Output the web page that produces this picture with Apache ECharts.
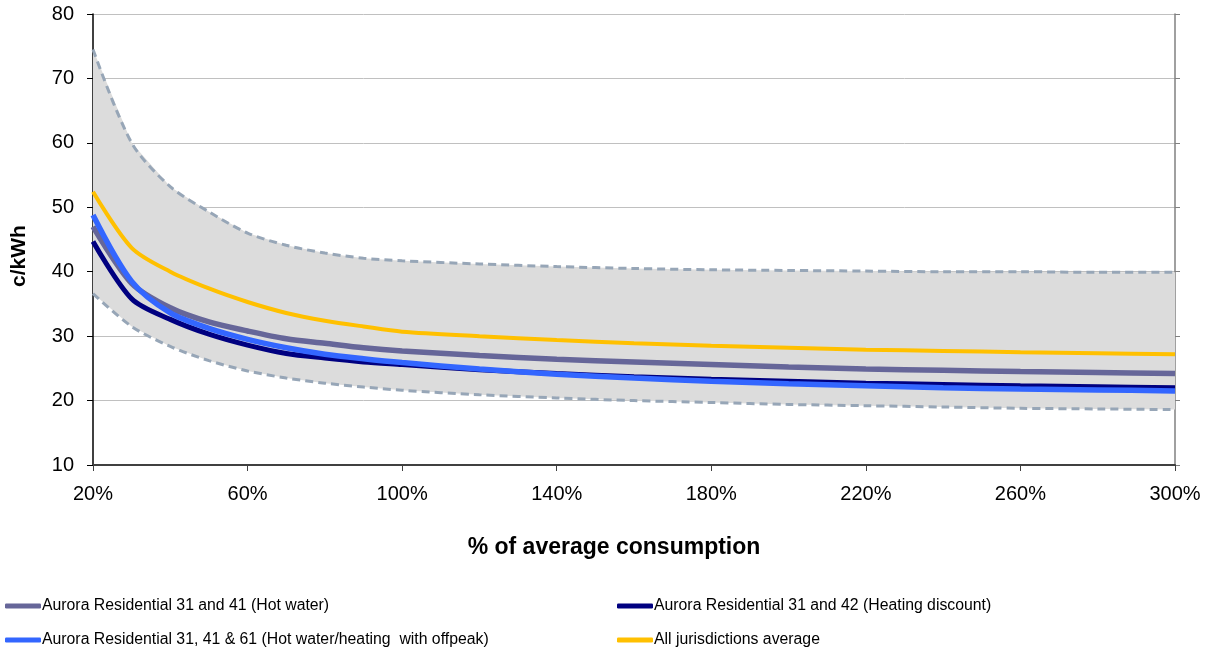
<!DOCTYPE html>
<html>
<head>
<meta charset="utf-8">
<script src="https://cdn.jsdelivr.net/npm/echarts@6/dist/echarts.min.js"></script>
<style>html,body{margin:0;padding:0;background:#fff}#c{width:1209px;height:652px}</style>
</head>
<body>
<div id="c"></div>
<script>
const consumption = [20,30,40,50,60,70,80,90,100,120,140,160,180,200,220,240,260,280,300];
const bandUpper = [74.5,60.0,53.2,49.3,46.0,44.1,42.9,42.1,41.7,41.2,40.8,40.5,40.3,40.2,40.1,40.0,40.0,39.9,39.9];
const bandLower = [36.6,31.5,28.4,26.2,24.6,23.5,22.7,22.1,21.6,20.9,20.4,20.0,19.7,19.4,19.2,19.0,18.8,18.7,18.6];
const hotWater = [47.0,38.2,34.4,32.2,30.8,29.6,28.9,28.2,27.7,27.0,26.4,26.0,25.6,25.2,24.9,24.7,24.5,24.35,24.2];
const heatingDiscount = [44.7,35.8,32.6,30.3,28.6,27.3,26.6,26.0,25.6,24.8,24.2,23.7,23.3,23.0,22.7,22.5,22.3,22.15,22.0];
const offpeak = [48.8,38.5,33.6,31.2,29.5,28.2,27.2,26.5,25.9,24.9,24.1,23.5,23.0,22.6,22.3,22.0,21.8,21.65,21.5];
const allAverage = [52.4,43.7,40.0,37.4,35.3,33.6,32.4,31.5,30.7,30.0,29.4,28.9,28.5,28.2,27.9,27.7,27.5,27.35,27.2];
const xTicks = {min:20, max:300, interval:40};
const yTicks = {min:10, max:80, interval:10};
const names = [
  'Aurora Residential 31 and 41 (Hot water)',
  'Aurora Residential 31 and 42 (Heating discount)',
  'Aurora Residential 31, 41 & 61 (Hot water/heating  with offpeak)',
  'All jurisdictions average'
];
const xTitle = '% of average consumption';
const yTitle = 'c/kWh';

const pairs = arr => consumption.map((x,i)=>[x,arr[i]]);
const bandRows = consumption.map((x,i)=>[x, bandLower[i], bandUpper[i]]);
const FONT = 'Liberation Sans, Arial, sans-serif';

const chart = echarts.init(document.getElementById('c'), null, {renderer:'canvas'});
const lineS = (name, data, color, width) => ({
  name, type:'line', data:pairs(data), smooth:0.3, symbol:'none',
  lineStyle:{color, width}, itemStyle:{color}, z:5
});
const legendItem = (name, left, top) => ({
  data:[name], left, top, padding:0, icon:'roundRect', itemWidth:36, itemHeight:5, itemGap:0,
  textStyle:{fontFamily:FONT, fontSize:15.8, color:'#000', padding:[0,0,0,-4]}
});
chart.setOption({
  animation:false,
  backgroundColor:'#fff',
  grid:{left:93, right:34, top:14, bottom:187},
  graphic:[
    {type:'text', x:614, y:548,
     style:{text:xTitle, font:'bold 23px '+FONT, fill:'#000', align:'center', verticalAlign:'middle'}},
    {type:'text', x:19, y:256, rotation:Math.PI/2,
     style:{text:yTitle, font:'bold 21px '+FONT, fill:'#000', align:'center', verticalAlign:'middle'}}
  ],
  legend:[
    legendItem(names[0], 5, 598),
    legendItem(names[1], 617, 598),
    legendItem(names[2], 5, 632),
    legendItem(names[3], 617, 632)
  ],
  xAxis:{
    type:'value', min:xTicks.min, max:xTicks.max, interval:xTicks.interval,
    axisLine:{lineStyle:{color:'#404040', width:2}},
    axisTick:{length:6, lineStyle:{color:'#404040'}},
    axisLabel:{formatter:'{value}%', fontFamily:FONT, fontSize:20, color:'#000', margin:19},
    splitLine:{show:false}
  },
  yAxis:[{
    type:'value', min:yTicks.min, max:yTicks.max, interval:yTicks.interval,
    axisLine:{show:true, lineStyle:{color:'#000', width:1.5}},
    axisTick:{show:true, length:6, lineStyle:{color:'#000'}},
    axisLabel:{fontFamily:FONT, fontSize:20, color:'#000', margin:19},
    splitLine:{show:true, lineStyle:{color:'#C0C0C0', width:1}}
  },{
    type:'value', min:yTicks.min, max:yTicks.max, interval:yTicks.interval, position:'right',
    axisLine:{show:true, lineStyle:{color:'#808080', width:1.5}},
    axisTick:{show:true, length:5, lineStyle:{color:'#808080'}},
    axisLabel:{show:false}, splitLine:{show:false}
  }],
  series:[
    {name:'band', type:'custom', data:bandRows, silent:true, z:2,
     renderItem:(params, api) => {
       if (params.dataIndex !== 0) return null;
       const up = bandRows.map(r => api.coord([r[0], r[2]]));
       const lo = bandRows.map(r => api.coord([r[0], r[1]])).reverse();
       return {type:'polygon', shape:{points:up.concat(lo)}, style:{fill:'#DCDCDC'}};
     },
     encode:{x:0, y:[1,2]}},
    {name:'upper', type:'line', data:pairs(bandUpper), smooth:0.3, symbol:'none',
     lineStyle:{color:'#97A6B7', width:3, type:[8,5]}, z:3},
    {name:'lower', type:'line', data:pairs(bandLower), smooth:0.3, symbol:'none',
     lineStyle:{color:'#97A6B7', width:3, type:[8,5]}, z:3},
    lineS(names[0], hotWater, '#666699', 5.5),
    lineS(names[1], heatingDiscount, '#000080', 5),
    lineS(names[2], offpeak, '#3366FF', 5.5),
    lineS(names[3], allAverage, '#FFC000', 4)
  ]
});
</script>
</body>
</html>
